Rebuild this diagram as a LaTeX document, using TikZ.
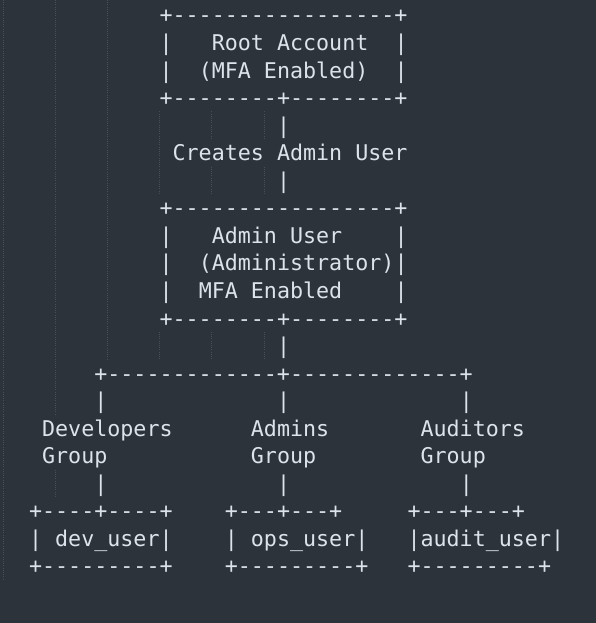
\documentclass[tikz,border=0pt]{standalone}
\usepackage{fontspec}
\newfontfamily\asciifont{DejaVu Sans Mono}
\definecolor{PanelBg}{HTML}{2D333B}
\definecolor{AsciiInk}{HTML}{DCE3EB}
\definecolor{GuideGrey}{HTML}{474F59}
\tikzset{
  ascii/.style={anchor=base west,inner sep=0pt,outer sep=0pt,text=AsciiInk,
    font=\asciifont\fontsize{21.67pt}{26pt}\selectfont},
  guide/.style={GuideGrey,line width=0.7pt,dash pattern=on 0.8pt off 1.4pt}
}

\begin{document}
\begin{tikzpicture}[x=13.05pt,y=-27.55pt]
  \fill[PanelBg] (-0.2299,0.4555) rectangle (45.4406,23.0690);
  \useasboundingbox (-0.2299,0.4555) rectangle (45.4406,23.0690);
  % indent guides
  \foreach \c/\a/\b in {0/0.4555/21.5, 4/0.4555/15.5, 4/17.5/18.5, 8/0.4555/13.5,
      12/4.5/7.5, 16/4.5/5.5, 16/6.5/7.5, 20/4.5/5.5, 20/6.5/7.5,
      12/12.5/13.5, 16/12.5/13.5, 20/12.5/13.5}
    \draw[guide] (\c,\a) -- (\c,\b);
  % root account box
  \node[ascii] (rootTop) at (12,1.29) {+-----------------+};
  \node[ascii] (rootName) at (16,2.29) {Root Account};
  \node[ascii] (rootMfa) at (15,3.29) {(MFA Enabled)};
  \node[ascii] (rootBot) at (12,4.29) {+--------+--------+};
  \node[ascii] (creates) at (13,6.29) {Creates Admin User};
  % admin user box
  \node[ascii] (adminTop) at (12,8.29) {+-----------------+};
  \node[ascii] (adminName) at (16,9.29) {Admin User};
  \node[ascii] (adminRole) at (15,10.29) {(Administrator)};
  \node[ascii] (adminMfa) at (15,11.29) {MFA Enabled};
  \node[ascii] (adminBot) at (12,12.29) {+--------+--------+};
  \node[ascii] (fork) at (7,14.29) {+-------------+-------------+};
  % groups
  \node[ascii] (devGroup) at (3,16.29) {Developers};
  \node[ascii] (devGroupB) at (3,17.29) {Group};
  \node[ascii] (admGroup) at (19,16.29) {Admins};
  \node[ascii] (admGroupB) at (19,17.29) {Group};
  \node[ascii] (audGroup) at (32,16.29) {Auditors};
  \node[ascii] (audGroupB) at (32,17.29) {Group};
  % user boxes
  \node[ascii] (devTop) at (2,19.29) {+----+----+};
  \node[ascii] (devUser) at (4,20.29) {dev\_user};
  \node[ascii] (devBot) at (2,21.29) {+---------+};
  \node[ascii] (opsTop) at (17,19.29) {+---+---+};
  \node[ascii] (opsUser) at (19,20.29) {ops\_user};
  \node[ascii] (opsBot) at (17,21.29) {+---------+};
  \node[ascii] (audTop) at (31,19.29) {+---+---+};
  \node[ascii] (audUser) at (32,20.29) {audit\_user};
  \node[ascii] (audBot) at (31,21.29) {+---------+};
  % vertical bars
  \foreach \c/\r in {12/2, 30/2, 12/3, 30/3, 21/5, 21/7, 12/9, 30/9, 12/10, 30/10,
      12/11, 30/11, 21/13, 7/15, 21/15, 35/15, 7/18, 21/18, 35/18,
      2/20, 12/20, 17/20, 27/20, 31/20, 42/20}
    \node[ascii] (bar-\c-\r) at (\c,\r+0.29) {|};
\end{tikzpicture}
\end{document}
